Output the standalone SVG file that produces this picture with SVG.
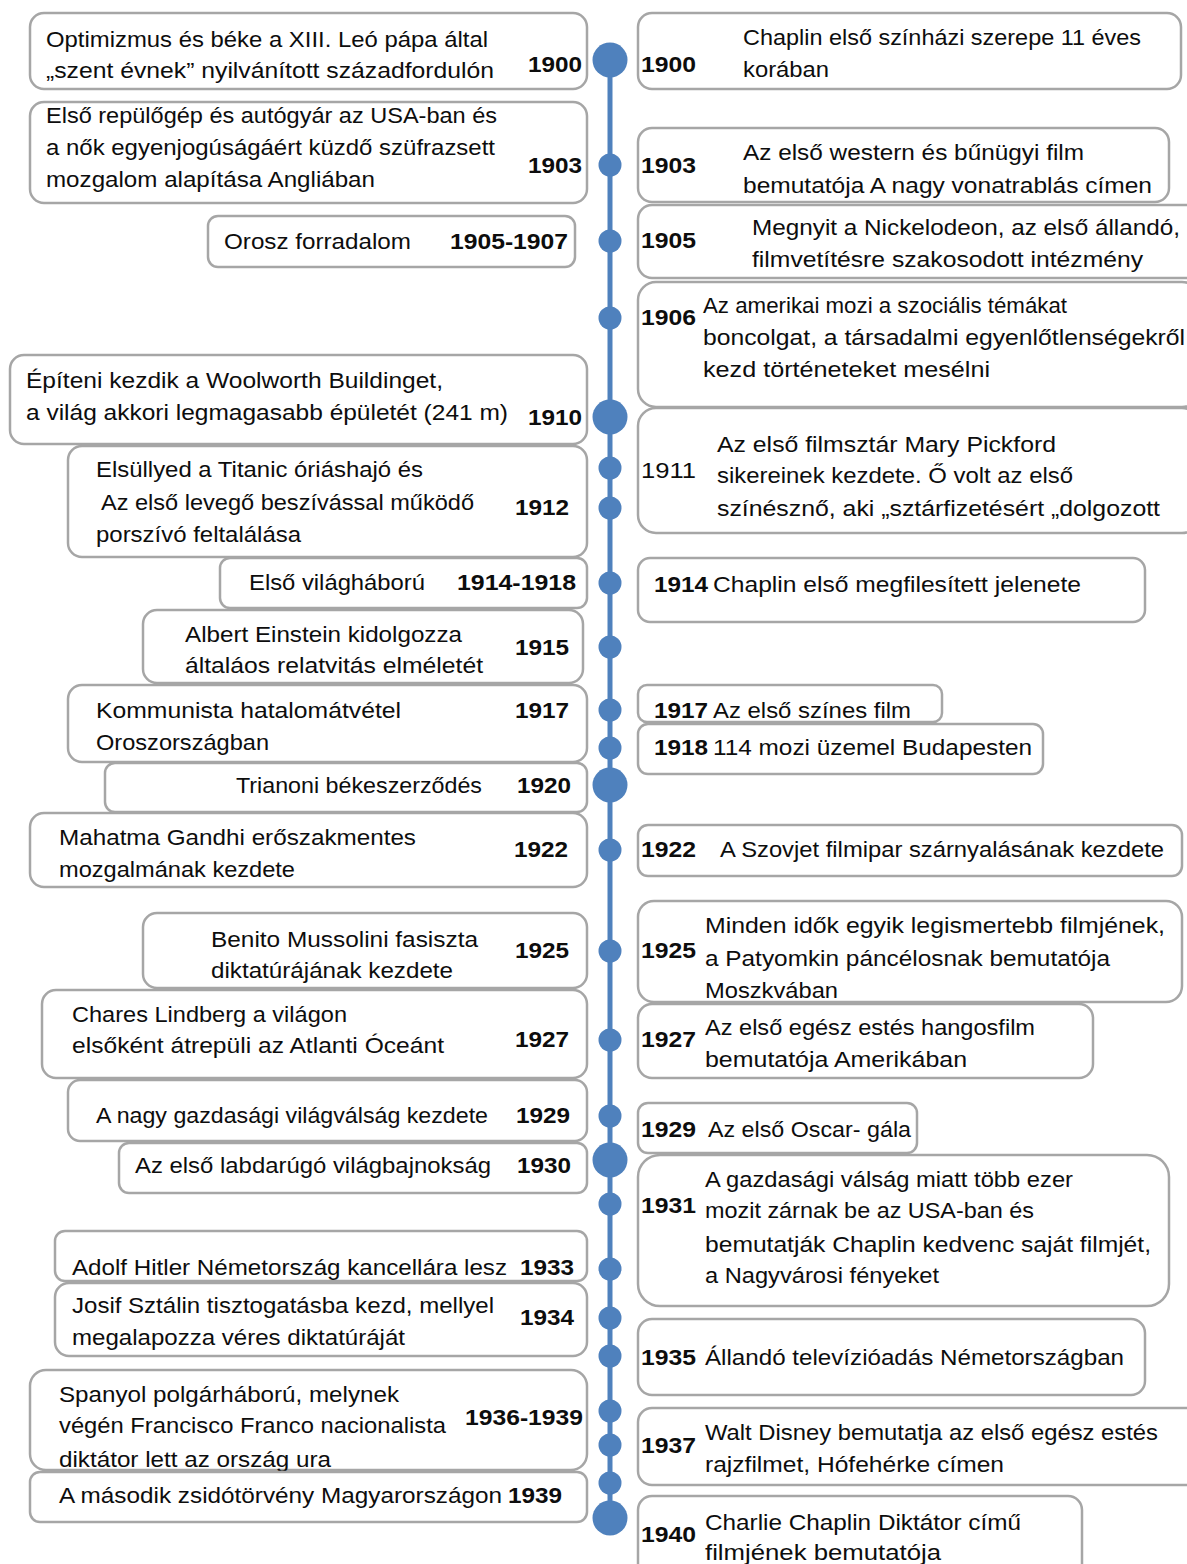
<svg xmlns="http://www.w3.org/2000/svg" width="1187" height="1564" viewBox="0 0 1187 1564">
<style>
.box{fill:#fff;stroke:#A6A6A6;stroke-width:2.5}
text{font-family:"Liberation Sans",Arial,sans-serif;font-size:22px;fill:#0d0d0d}
.y{font-weight:bold}
.line{stroke:#4F81BD;stroke-width:5}
.dot{fill:#4F81BD}
</style>
<rect width="1187" height="1564" fill="#fff"/>
<g id="left-nodes">
<g id="L1900"><rect class="box" x="30" y="13" width="557" height="76" rx="14"/>
<text x="46" y="47" textLength="442" lengthAdjust="spacingAndGlyphs">Optimizmus és béke  a XIII. Leó pápa által</text>
<text x="46" y="78" textLength="448" lengthAdjust="spacingAndGlyphs">„szent évnek” nyilvánított századfordulón</text>
<text class="y" x="528" y="72" textLength="54" lengthAdjust="spacingAndGlyphs">1900</text></g>
<g id="L1903"><rect class="box" x="30" y="102" width="557" height="101" rx="14"/>
<text x="46" y="123" textLength="451" lengthAdjust="spacingAndGlyphs">Első repülőgép és autógyár az USA-ban és</text>
<text x="46" y="155" textLength="449" lengthAdjust="spacingAndGlyphs">a nők egyenjogúságáért küzdő szüfrazsett</text>
<text x="46" y="187" textLength="329" lengthAdjust="spacingAndGlyphs">mozgalom alapítása Angliában</text>
<text class="y" x="528" y="173" textLength="54" lengthAdjust="spacingAndGlyphs">1903</text></g>
<g id="L1905"><rect class="box" x="208" y="216" width="367" height="51" rx="10"/>
<text x="224" y="249" textLength="187" lengthAdjust="spacingAndGlyphs">Orosz forradalom</text>
<text class="y" x="450" y="249" textLength="118" lengthAdjust="spacingAndGlyphs">1905-1907</text></g>
<g id="L1910"><rect class="box" x="10" y="355" width="577" height="89" rx="14"/>
<text x="26" y="388" textLength="417" lengthAdjust="spacingAndGlyphs">Építeni kezdik a Woolworth Buildinget,</text>
<text x="26" y="420" textLength="482" lengthAdjust="spacingAndGlyphs">a világ akkori legmagasabb épületét  (241 m)</text>
<text class="y" x="528" y="425" textLength="54" lengthAdjust="spacingAndGlyphs">1910</text></g>
<g id="L1912"><rect class="box" x="68" y="446" width="519" height="111" rx="14"/>
<text x="96" y="477" textLength="327" lengthAdjust="spacingAndGlyphs">Elsüllyed a Titanic óriáshajó és</text>
<text x="101" y="510" textLength="373" lengthAdjust="spacingAndGlyphs">Az első levegő beszívással működő</text>
<text x="96" y="542" textLength="205" lengthAdjust="spacingAndGlyphs">porszívó feltalálása</text>
<text class="y" x="515" y="515" textLength="54" lengthAdjust="spacingAndGlyphs">1912</text></g>
<g id="L1914"><rect class="box" x="220" y="558" width="367" height="50" rx="10"/>
<text x="249" y="590" textLength="176" lengthAdjust="spacingAndGlyphs">Első világháború</text>
<text class="y" x="457" y="590" textLength="119" lengthAdjust="spacingAndGlyphs">1914-1918</text></g>
<g id="L1915"><rect class="box" x="143" y="610" width="440" height="73" rx="14"/>
<text x="185" y="642" textLength="277" lengthAdjust="spacingAndGlyphs">Albert Einstein kidolgozza</text>
<text x="185" y="673" textLength="298" lengthAdjust="spacingAndGlyphs">általáos relatvitás elméletét</text>
<text class="y" x="515" y="655" textLength="54" lengthAdjust="spacingAndGlyphs">1915</text></g>
<g id="L1917"><rect class="box" x="68" y="685" width="519" height="77" rx="14"/>
<text x="96" y="718" textLength="305" lengthAdjust="spacingAndGlyphs">Kommunista hatalomátvétel</text>
<text x="96" y="750" textLength="173" lengthAdjust="spacingAndGlyphs">Oroszországban</text>
<text class="y" x="515" y="718" textLength="54" lengthAdjust="spacingAndGlyphs">1917</text></g>
<g id="L1920"><rect class="box" x="105" y="763" width="482" height="49" rx="10"/>
<text x="236" y="793" textLength="246" lengthAdjust="spacingAndGlyphs">Trianoni békeszerződés</text>
<text class="y" x="517" y="793" textLength="54" lengthAdjust="spacingAndGlyphs">1920</text></g>
<g id="L1922"><rect class="box" x="30" y="813" width="557" height="74" rx="14"/>
<text x="59" y="845" textLength="357" lengthAdjust="spacingAndGlyphs">Mahatma Gandhi erőszakmentes</text>
<text x="59" y="877" textLength="236" lengthAdjust="spacingAndGlyphs">mozgalmának kezdete</text>
<text class="y" x="514" y="857" textLength="54" lengthAdjust="spacingAndGlyphs">1922</text></g>
<g id="L1925"><rect class="box" x="143" y="913" width="444" height="75" rx="14"/>
<text x="211" y="947" textLength="267" lengthAdjust="spacingAndGlyphs">Benito Mussolini fasiszta</text>
<text x="211" y="978" textLength="242" lengthAdjust="spacingAndGlyphs">diktatúrájának kezdete</text>
<text class="y" x="515" y="958" textLength="54" lengthAdjust="spacingAndGlyphs">1925</text></g>
<g id="L1927"><rect class="box" x="42" y="990" width="545" height="88" rx="14"/>
<text x="72" y="1022" textLength="275" lengthAdjust="spacingAndGlyphs">Chares Lindberg a világon</text>
<text x="72" y="1053" textLength="372" lengthAdjust="spacingAndGlyphs">elsőként átrepüli az Atlanti Óceánt</text>
<text class="y" x="515" y="1047" textLength="54" lengthAdjust="spacingAndGlyphs">1927</text></g>
<g id="L1929"><rect class="box" x="68" y="1080" width="519" height="61" rx="12"/>
<text x="96" y="1123" textLength="392" lengthAdjust="spacingAndGlyphs">A nagy gazdasági világválság kezdete</text>
<text class="y" x="516" y="1123" textLength="54" lengthAdjust="spacingAndGlyphs">1929</text></g>
<g id="L1930"><rect class="box" x="119" y="1143" width="468" height="50" rx="10"/>
<text x="135" y="1173" textLength="356" lengthAdjust="spacingAndGlyphs">Az első labdarúgó világbajnokság</text>
<text class="y" x="517" y="1173" textLength="54" lengthAdjust="spacingAndGlyphs">1930</text></g>
<g id="L1933"><rect class="box" x="55" y="1231" width="532" height="50" rx="10"/>
<text x="72" y="1275" textLength="435" lengthAdjust="spacingAndGlyphs">Adolf Hitler Németország kancellára lesz</text>
<text class="y" x="520" y="1275" textLength="54" lengthAdjust="spacingAndGlyphs">1933</text></g>
<g id="L1934"><rect class="box" x="55" y="1283" width="532" height="73" rx="14"/>
<text x="72" y="1313" textLength="422" lengthAdjust="spacingAndGlyphs">Josif Sztálin  tisztogatásba kezd, mellyel</text>
<text x="72" y="1345" textLength="333" lengthAdjust="spacingAndGlyphs">megalapozza véres diktatúráját</text>
<text class="y" x="520" y="1325" textLength="54" lengthAdjust="spacingAndGlyphs">1934</text></g>
<g id="L1936"><rect class="box" x="30" y="1370" width="557" height="100" rx="16"/>
<text x="59" y="1402" textLength="340" lengthAdjust="spacingAndGlyphs">Spanyol polgárháború, melynek</text>
<text x="59" y="1433" textLength="387" lengthAdjust="spacingAndGlyphs">végén Francisco Franco nacionalista</text>
<text x="59" y="1467" textLength="272" lengthAdjust="spacingAndGlyphs">diktátor lett az ország ura</text>
<text class="y" x="465" y="1425" textLength="118" lengthAdjust="spacingAndGlyphs">1936-1939</text></g>
<g id="L1939"><rect class="box" x="30" y="1472" width="557" height="50" rx="10"/>
<text x="59" y="1503" textLength="443" lengthAdjust="spacingAndGlyphs">A második zsidótörvény Magyarországon</text>
<text class="y" x="508" y="1503" textLength="54" lengthAdjust="spacingAndGlyphs">1939</text></g>
</g>
<g id="right-nodes">
<g id="R1900"><rect class="box" x="638" y="13" width="543" height="76" rx="14"/>
<text class="y" x="641" y="72" textLength="55" lengthAdjust="spacingAndGlyphs">1900</text>
<text x="743" y="45" textLength="398" lengthAdjust="spacingAndGlyphs">Chaplin első színházi szerepe 11 éves</text>
<text x="743" y="77" textLength="86" lengthAdjust="spacingAndGlyphs">korában</text></g>
<g id="R1903"><rect class="box" x="638" y="128" width="531" height="74" rx="14"/>
<text class="y" x="641" y="173" textLength="55" lengthAdjust="spacingAndGlyphs">1903</text>
<text x="743" y="160" textLength="341" lengthAdjust="spacingAndGlyphs">Az első western és bűnügyi film</text>
<text x="743" y="193" textLength="409" lengthAdjust="spacingAndGlyphs">bemutatója A nagy vonatrablás címen</text></g>
<g id="R1905"><rect class="box" x="638" y="205" width="562" height="73" rx="14"/>
<text class="y" x="641" y="248" textLength="55" lengthAdjust="spacingAndGlyphs">1905</text>
<text x="752" y="235" textLength="428" lengthAdjust="spacingAndGlyphs">Megnyit a Nickelodeon, az első állandó,</text>
<text x="752" y="267" textLength="391" lengthAdjust="spacingAndGlyphs">filmvetítésre szakosodott intézmény</text></g>
<g id="R1906"><rect class="box" x="638" y="282" width="562" height="125" rx="18"/>
<text class="y" x="641" y="325" textLength="55" lengthAdjust="spacingAndGlyphs">1906</text>
<text x="703" y="313" textLength="364" lengthAdjust="spacingAndGlyphs">Az amerikai mozi a szociális témákat</text>
<text x="703" y="345" textLength="482" lengthAdjust="spacingAndGlyphs">boncolgat, a társadalmi  egyenlőtlenségekről</text>
<text x="703" y="377" textLength="287" lengthAdjust="spacingAndGlyphs">kezd  történeteket mesélni</text></g>
<g id="R1911"><rect class="box" x="638" y="408" width="562" height="125" rx="18"/>
<text x="641" y="478" textLength="55" lengthAdjust="spacingAndGlyphs">1911</text>
<text x="717" y="452" textLength="339" lengthAdjust="spacingAndGlyphs">Az első filmsztár Mary  Pickford</text>
<text x="717" y="483" textLength="356" lengthAdjust="spacingAndGlyphs">sikereinek kezdete. Ő volt az első</text>
<text x="717" y="516" textLength="443" lengthAdjust="spacingAndGlyphs">színésznő,  aki „sztárfizetésért „dolgozott</text></g>
<g id="R1914"><rect class="box" x="638" y="558" width="507" height="64" rx="12"/>
<text class="y" x="654" y="592" textLength="54" lengthAdjust="spacingAndGlyphs">1914</text>
<text x="713" y="592" textLength="368" lengthAdjust="spacingAndGlyphs">Chaplin első megfilesített jelenete</text></g>
<g id="R1917"><rect class="box" x="638" y="685" width="304" height="37" rx="9"/>
<text class="y" x="654" y="718" textLength="54" lengthAdjust="spacingAndGlyphs">1917</text>
<text x="713" y="718" textLength="198" lengthAdjust="spacingAndGlyphs">Az első színes film</text></g>
<g id="R1918"><rect class="box" x="638" y="724" width="405" height="50" rx="10"/>
<text class="y" x="654" y="755" textLength="54" lengthAdjust="spacingAndGlyphs">1918</text>
<text x="713" y="755" textLength="319" lengthAdjust="spacingAndGlyphs">114 mozi üzemel Budapesten</text></g>
<g id="R1922"><rect class="box" x="638" y="825" width="544" height="51" rx="10"/>
<text class="y" x="641" y="857" textLength="55" lengthAdjust="spacingAndGlyphs">1922</text>
<text x="720" y="857" textLength="444" lengthAdjust="spacingAndGlyphs">A Szovjet filmipar szárnyalásának kezdete</text></g>
<g id="R1925"><rect class="box" x="638" y="901" width="544" height="101" rx="16"/>
<text class="y" x="641" y="958" textLength="55" lengthAdjust="spacingAndGlyphs">1925</text>
<text x="705" y="933" textLength="460" lengthAdjust="spacingAndGlyphs">Minden idők egyik legismertebb filmjének,</text>
<text x="705" y="966" textLength="405" lengthAdjust="spacingAndGlyphs">a Patyomkin páncélosnak bemutatója</text>
<text x="705" y="998" textLength="133" lengthAdjust="spacingAndGlyphs">Moszkvában</text></g>
<g id="R1927"><rect class="box" x="638" y="1004" width="455" height="74" rx="14"/>
<text class="y" x="641" y="1047" textLength="55" lengthAdjust="spacingAndGlyphs">1927</text>
<text x="705" y="1035" textLength="330" lengthAdjust="spacingAndGlyphs">Az első egész estés hangosfilm</text>
<text x="705" y="1067" textLength="262" lengthAdjust="spacingAndGlyphs">bemutatója Amerikában</text></g>
<g id="R1929"><rect class="box" x="638" y="1103" width="279" height="50" rx="10"/>
<text class="y" x="641" y="1137" textLength="55" lengthAdjust="spacingAndGlyphs">1929</text>
<text x="708" y="1137" textLength="203" lengthAdjust="spacingAndGlyphs">Az első Oscar- gála</text></g>
<g id="R1931"><rect class="box" x="638" y="1155" width="531" height="151" rx="22"/>
<text class="y" x="641" y="1213" textLength="55" lengthAdjust="spacingAndGlyphs">1931</text>
<text x="705" y="1187" textLength="368" lengthAdjust="spacingAndGlyphs">A gazdasági válság miatt több ezer</text>
<text x="705" y="1218" textLength="329" lengthAdjust="spacingAndGlyphs">mozit zárnak be az USA-ban és</text>
<text x="705" y="1252" textLength="446" lengthAdjust="spacingAndGlyphs">bemutatják Chaplin kedvenc saját filmjét,</text>
<text x="705" y="1283" textLength="234" lengthAdjust="spacingAndGlyphs">a Nagyvárosi fényeket</text></g>
<g id="R1935"><rect class="box" x="638" y="1319" width="507" height="76" rx="14"/>
<text class="y" x="641" y="1365" textLength="55" lengthAdjust="spacingAndGlyphs">1935</text>
<text x="705" y="1365" textLength="419" lengthAdjust="spacingAndGlyphs">Állandó televízióadás Németországban</text></g>
<g id="R1937"><rect class="box" x="638" y="1408" width="562" height="77" rx="14"/>
<text class="y" x="641" y="1453" textLength="55" lengthAdjust="spacingAndGlyphs">1937</text>
<text x="705" y="1440" textLength="453" lengthAdjust="spacingAndGlyphs">Walt Disney bemutatja az első egész estés</text>
<text x="705" y="1472" textLength="299" lengthAdjust="spacingAndGlyphs">rajzfilmet, Hófehérke címen</text></g>
<g id="R1940"><rect class="box" x="638" y="1496" width="444" height="90" rx="14"/>
<text class="y" x="641" y="1542" textLength="55" lengthAdjust="spacingAndGlyphs">1940</text>
<text x="705" y="1530" textLength="316" lengthAdjust="spacingAndGlyphs">Charlie Chaplin Diktátor című</text>
<text x="705" y="1560" textLength="236" lengthAdjust="spacingAndGlyphs">filmjének  bemutatója</text></g>
</g>
<g id="connectors">
<line class="line" x1="610" y1="60" x2="610" y2="1518"/>
<g id="dots">
<circle class="dot" cx="610" cy="60" r="17.5"/>
<circle class="dot" cx="610" cy="165" r="11.5"/>
<circle class="dot" cx="610" cy="241" r="11.5"/>
<circle class="dot" cx="610" cy="318" r="11.5"/>
<circle class="dot" cx="610" cy="417" r="17.5"/>
<circle class="dot" cx="610" cy="468" r="11.5"/>
<circle class="dot" cx="610" cy="508" r="11.5"/>
<circle class="dot" cx="610" cy="583" r="11.5"/>
<circle class="dot" cx="610" cy="647" r="11.5"/>
<circle class="dot" cx="610" cy="710" r="11.5"/>
<circle class="dot" cx="610" cy="748" r="11.5"/>
<circle class="dot" cx="610" cy="785" r="17.5"/>
<circle class="dot" cx="610" cy="850" r="11.5"/>
<circle class="dot" cx="610" cy="951" r="11.5"/>
<circle class="dot" cx="610" cy="1040" r="11.5"/>
<circle class="dot" cx="610" cy="1116" r="11.5"/>
<circle class="dot" cx="610" cy="1160" r="17.5"/>
<circle class="dot" cx="610" cy="1204" r="11.5"/>
<circle class="dot" cx="610" cy="1269" r="11.5"/>
<circle class="dot" cx="610" cy="1318" r="11.5"/>
<circle class="dot" cx="610" cy="1356" r="11.5"/>
<circle class="dot" cx="610" cy="1411" r="11.5"/>
<circle class="dot" cx="610" cy="1445" r="11.5"/>
<circle class="dot" cx="610" cy="1483" r="11.5"/>
<circle class="dot" cx="610" cy="1518" r="17.5"/>
</g>
</g>
</svg>
